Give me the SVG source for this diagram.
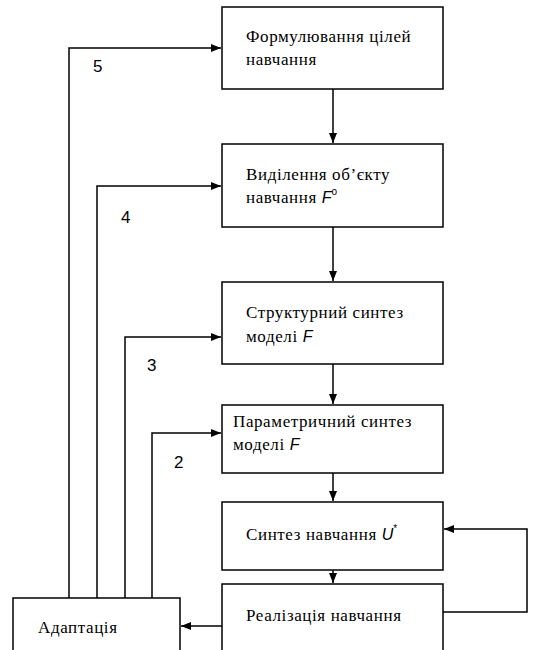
<svg xmlns="http://www.w3.org/2000/svg" width="552" height="650" viewBox="0 0 552 650">
<style>
.box{fill:#fff;stroke:#000;stroke-width:1.5}
.t{font-family:'Liberation Serif',serif;font-size:17px;letter-spacing:0.6px;fill:#000}
.n{font-family:'Liberation Sans',sans-serif;font-size:17px;fill:#000}
.ln{fill:none;stroke:#000;stroke-width:1.5}
.v{font-family:'Liberation Sans',sans-serif;font-style:italic;font-size:16px;letter-spacing:0}
.s{font-family:'Liberation Sans',sans-serif;font-size:10px;letter-spacing:0}
</style>
<defs>
<marker id="ah" markerWidth="10" markerHeight="8" refX="10" refY="4" orient="auto" markerUnits="userSpaceOnUse">
<path d="M0,0 L10,4 L0,8 Z" fill="#000"/>
</marker>
</defs>
<rect width="552" height="650" fill="#fff"/>
<g id="connectors">
<path class="ln" d="M333,89 V143" marker-end="url(#ah)"/>
<path class="ln" d="M333,227 V281" marker-end="url(#ah)"/>
<path class="ln" d="M333,364 V404" marker-end="url(#ah)"/>
<path class="ln" d="M333,473 V501" marker-end="url(#ah)"/>
<path class="ln" d="M333,570 V583" marker-end="url(#ah)"/>
<path class="ln" d="M443,612 H527 V529 H444" marker-end="url(#ah)"/>
<path class="ln" d="M222,626 H181" marker-end="url(#ah)"/>
<path class="ln" d="M69,598 V48 H221" marker-end="url(#ah)"/>
<path class="ln" d="M97,598 V186 H221" marker-end="url(#ah)"/>
<path class="ln" d="M125,598 V337 H221" marker-end="url(#ah)"/>
<path class="ln" d="M152,598 V433 H221" marker-end="url(#ah)"/>
<text class="n" x="93" y="72">5</text>
<text class="n" x="121" y="223">4</text>
<text class="n" x="147" y="371">3</text>
<text class="n" x="174" y="468">2</text>
</g>
<g id="n1">
<rect class="box" x="222" y="7" width="221" height="82"/>
<text class="t" x="246" y="42">Формулювання цілей</text>
<text class="t" x="246" y="65">навчання</text>
</g>
<g id="n2">
<rect class="box" x="222" y="144" width="221" height="83"/>
<text class="t" x="246" y="180">Виділення об’єкту</text>
<text class="t" x="246" y="203">навчання <tspan class="v">F</tspan><tspan class="s" dy="-8">o</tspan></text>
</g>
<g id="n3">
<rect class="box" x="222" y="282" width="221" height="82"/>
<text class="t" x="246" y="318">Структурний синтез</text>
<text class="t" x="246" y="342">моделі  <tspan class="v">F</tspan></text>
</g>
<g id="n4">
<rect class="box" x="222" y="405" width="221" height="68"/>
<text class="t" x="233" y="427">Параметричний синтез</text>
<text class="t" x="233" y="450">моделі  <tspan class="v">F</tspan></text>
</g>
<g id="n5">
<rect class="box" x="222" y="502" width="221" height="68"/>
<text class="t" x="246" y="540">Синтез  навчання <tspan class="v">U</tspan><tspan class="s" dy="-8">*</tspan></text>
</g>
<g id="n6">
<rect class="box" x="222" y="584" width="221" height="80"/>
<text class="t" x="246" y="621">Реалізація навчання</text>
</g>
<g id="n7">
<rect class="box" x="13" y="598" width="167" height="66"/>
<text class="t" x="38" y="633">Адаптація</text>
</g>
</svg>
